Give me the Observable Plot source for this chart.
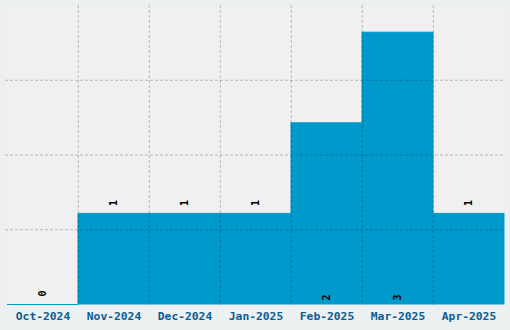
<!DOCTYPE html>
<html>
<head>
<meta charset="utf-8">
<script src="https://cdn.jsdelivr.net/npm/d3@7"></script>
<script src="https://cdn.jsdelivr.net/npm/@observablehq/plot@0.6"></script>
<style>
  html, body { margin: 0; padding: 0; background: #ecf0f1; }
  #chart svg { display: block; }
</style>
</head>
<body>
<div id="chart"></div>
<script>
const months = ["Oct-2024", "Nov-2024", "Dec-2024", "Jan-2025", "Feb-2025", "Mar-2025", "Apr-2025"];
const counts = [0, 1, 1, 1, 2, 3, 1];
const gridY = [0.825, 1.65, 2.475];
const yMax = 3.3;

const data = months.map((m, i) => ({month: m, count: counts[i]}));

const W = 510, H = 330;
const mL = 5, mR = 5, mT = 5, mB = 26;
const bandW = (W - mL - mR) / months.length;
const font = "'DejaVu Sans Mono', monospace";

const chart = Plot.plot({
  width: W,
  height: H,
  marginLeft: mL,
  marginRight: mR,
  marginTop: mT,
  marginBottom: mB,
  style: {background: "transparent", fontFamily: font},
  x: {domain: months, padding: 0, axis: null},
  y: {domain: [0, yMax], axis: null},
  marks: [
    Plot.frame({fill: "#f0f0f0", stroke: null}),
    Plot.barY(data, {x: "month", y: "count", fill: "#0099cc", stroke: "#0099cc", strokeWidth: 1}),
    Plot.tickY(data.filter(d => d.count === 0), {x: "month", y: "count", stroke: "#0099cc", strokeWidth: 1.2}),
    Plot.ruleY(gridY, {stroke: "#000", strokeOpacity: 0.23, strokeDasharray: "3,2"}),
    Plot.ruleX(months.slice(1), {x: d => d, dx: -bandW / 2, stroke: "#000", strokeOpacity: 0.23, strokeDasharray: "3,2"}),
    Plot.text(data.filter(d => d.count <= 1), {
      x: "month", y: "count", text: d => String(d.count),
      rotate: -90, textAnchor: "start", dy: -8,
      fill: "#000", fontSize: 10, fontWeight: "bold", fontFamily: font
    }),
    Plot.text(data.filter(d => d.count > 1), {
      x: "month", y: 0, text: d => String(d.count),
      rotate: -90, textAnchor: "start", dy: -4,
      fill: "#000", fontSize: 10, fontWeight: "bold", fontFamily: font
    }),
    Plot.axisX({
      tickSize: 0, tickPadding: 7, fontSize: 11.3, fontWeight: "bold",
      fill: "#0b5c92", fontFamily: font, label: null
    })
  ]
});
document.getElementById("chart").appendChild(chart);
</script>
</body>
</html>
